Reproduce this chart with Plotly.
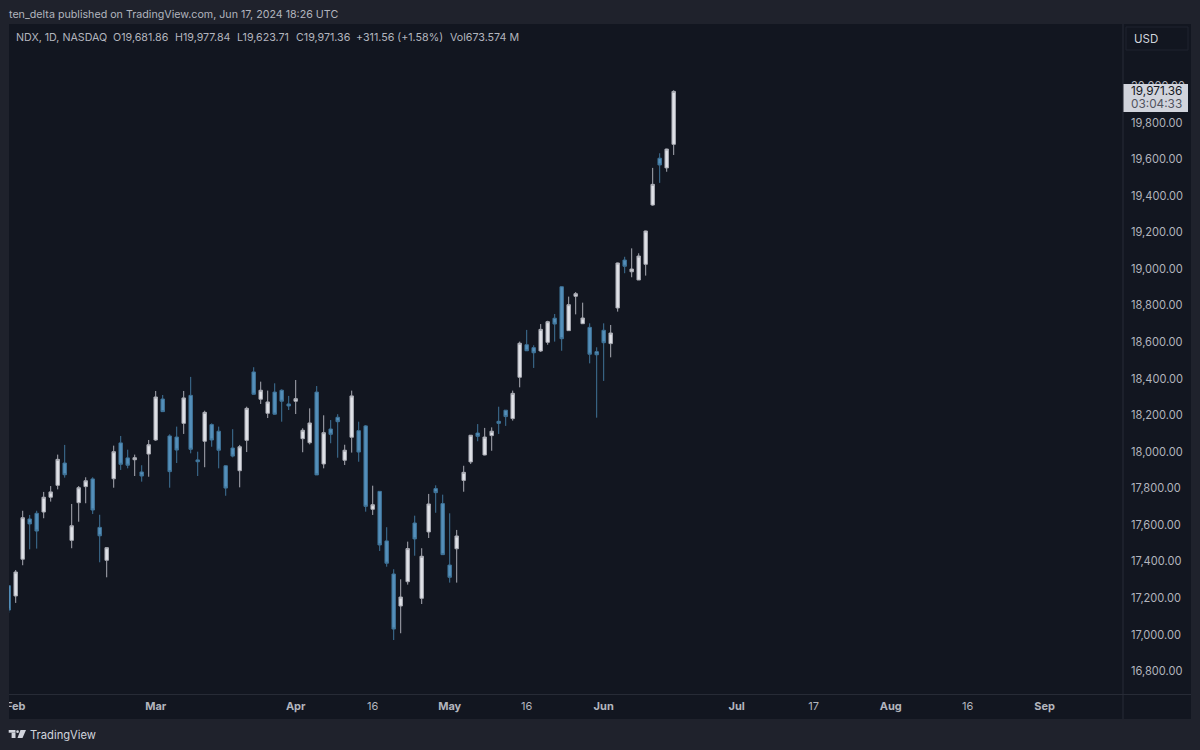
"""NDX daily candles, TradingView dark snapshot (Jun 17, 2024)."""

import plotly.graph_objects as go

W, H = 1200, 750

# 日线数据
opens = [
    17268, 17212, 17413, 17633, 17664, 17671, 17752, 17817, 17939, 17516, 17722, 17810,
    17852, 17587, 17407, 17853, 18049, 17967, 17957, 17890, 17988, 18065, 18289, 18087,
    18081, 18156, 18309, 17956, 18058, 18149, 18113, 17924, 18021, 17897, 18063, 18437,
    18288, 18211, 18327, 18337, 18262, 18277, 18072, 18050, 18327, 17934, 18125, 18189,
    17954, 18080, 18116, 18142, 17686, 17784, 17513, 17332, 17157, 17290, 17611, 17199,
    17562, 17799, 17717, 17381, 17470, 17844, 17945, 18103, 17983, 18089, 18167, 18228,
    18182, 18408, 18586, 18570, 18552, 18599, 18731, 18903, 18663, 18851, 18701, 18681,
    18548, 18665, 18592, 18787, 19049, 18985, 18940, 19026, 19350, 19606, 19553, 19681.86,
]
highs = [
    17272, 17354, 17678, 17655, 17678, 17781, 17813, 17985, 18038, 17715, 17813, 17861,
    17861, 17656, 17478, 18034, 18087, 18012, 17985, 17927, 18065, 18333, 18311, 18096,
    18138, 18333, 18410, 18001, 18225, 18156, 18138, 17927, 18124, 18038, 18247, 18463,
    18384, 18335, 18375, 18342, 18306, 18393, 18129, 18238, 18360, 18200, 18174, 18206,
    18039, 18335, 18165, 18147, 17815, 17786, 17588, 17358, 17303, 17509, 17651, 17473,
    17770, 17817, 17766, 17664, 17573, 17924, 18092, 18152, 18131, 18134, 18247, 18229,
    18335, 18603, 18667, 18583, 18699, 18717, 18754, 18905, 18849, 18874, 18816, 18703,
    18572, 18703, 18694, 19035, 19067, 19113, 19086, 19210, 19553, 19633, 19658, 19977.84,
]
lows = [
    17119, 17174, 17380, 17467, 17471, 17637, 17728, 17795, 17859, 17473, 17618, 17719,
    17660, 17396, 17314, 17804, 17901, 17910, 17868, 17837, 17864, 18060, 18218, 17804,
    17939, 18098, 17992, 17868, 17916, 18028, 17910, 17760, 17970, 17806, 17999, 18313,
    18262, 18185, 18203, 18165, 18229, 18207, 17998, 18041, 17874, 17910, 18047, 17968,
    17928, 17996, 17946, 17673, 17655, 17458, 17372, 16971, 17008, 17274, 17432, 17168,
    17529, 17667, 17436, 17285, 17285, 17782, 17934, 18058, 17981, 18006, 18098, 18142,
    18171, 18353, 18552, 18459, 18546, 18586, 18603, 18553, 18661, 18752, 18699, 18484,
    18187, 18388, 18517, 18767, 18977, 18955, 18940, 18964, 19346, 19471, 19532, 19623.71,
]
closes = [
    17135, 17343, 17640, 17606, 17567, 17752, 17781, 17959, 17875, 17596, 17804, 17842,
    17682, 17541, 17476, 18001, 17932, 17927, 17968, 17868, 18039, 18300, 18220, 17892,
    18010, 18295, 18014, 17946, 18216, 18065, 18009, 17802, 17977, 18028, 18238, 18315,
    18337, 18273, 18206, 18277, 18251, 18291, 18118, 18158, 17874, 18105, 18096, 18165,
    18009, 18306, 17999, 17702, 17711, 17491, 17391, 17031, 17206, 17471, 17524, 17429,
    17715, 17777, 17438, 17314, 17540, 17888, 18091, 18085, 18081, 18113, 18156, 18193,
    18320, 18594, 18553, 18542, 18670, 18712, 18699, 18619, 18805, 18865, 18732, 18534,
    18531, 18597, 18650, 19033, 19015, 19000, 19071, 19208, 19463, 19569, 19656, 19971.36,
]

price_ticks = [16800, 17000, 17200, 17400, 17600, 17800, 18000, 18200, 18400, 18600,
               18800, 19000, 19200, 19400, 19600, 19800, 20000]
date_tick_bars = [1, 21, 41, 52, 63, 74, 85, 104, 115, 126, 137, 148]
date_tick_labels = ["<b>Feb</b>", "<b>Mar</b>", "<b>Apr</b>", "16", "<b>May</b>", "16",
                    "<b>Jun</b>", "<b>Jul</b>", "17", "<b>Aug</b>", "16", "<b>Sep</b>"]

FRAME = "#1f222c"
PANE = "#121620"
SEP = "#272b36"
TEXT = "#b2b5be"
UP = "#e0e2e8"
UP_WICK = "#a9abb3"
DOWN = "#5590bb"
DOWN_WICK = "#3f7398"
FONT = "Inter, Liberation Sans, sans-serif"


def px(x):
    return x / W


def py(y):
    return 1 - y / H


def rect(x0, y0, x1, y1, color, layer="below", line=None):
    return dict(type="rect", xref="paper", yref="paper", x0=px(x0), x1=px(x1), y0=py(y0), y1=py(y1),
                fillcolor=color, layer=layer, line=dict(color=line or color, width=1 if line else 0))


def label(x, y, text, size=10.7, color=TEXT, anchor="left"):
    return dict(xref="paper", yref="paper", x=px(x), y=py(y), text=text, showarrow=False,
                xanchor=anchor, yanchor="middle", borderpad=0, font=dict(size=size, color=color, family=FONT))


fig = go.Figure(go.Candlestick(
    x=list(range(len(opens))),
    open=opens, high=highs, low=lows, close=closes,
    increasing=dict(line=dict(color=UP_WICK, width=1), fillcolor=UP),
    decreasing=dict(line=dict(color=DOWN_WICK, width=1), fillcolor=DOWN),
    hoverinfo="skip",
))

shapes = [
    rect(9, 24, 1191, 719, PANE),
    rect(1122.5, 24, 1123.5, 719, SEP),
    rect(9, 694, 1191, 695, SEP),
    # Feb 标签左侧被裁掉
    rect(0, 696, 9, 719, FRAME, layer="above"),
    rect(1126, 27, 1188, 50, PANE, layer="above", line="#1f232e"),
    rect(1123.5, 84, 1188, 112, "#d1d4dc", layer="above"),
]
# TradingView 徽标
shapes += [
    rect(8.7, 730, 15.5, 732.7, "#d1d4dc", layer="above"),
    rect(11.6, 732.7, 15.5, 738, "#d1d4dc", layer="above"),
    dict(type="circle", xref="paper", yref="paper", x0=px(16.2), x1=px(18.9), y0=py(733), y1=py(730.3),
         fillcolor="#d1d4dc", line=dict(width=0), layer="above"),
    dict(type="path", xref="paper", yref="paper", fillcolor="#d1d4dc", line=dict(width=0), layer="above",
         path=f"M {px(20.5)} {py(730)} L {px(26)} {py(730)} L {px(22.5)} {py(738)} L {px(17.5)} {py(738)} Z"),
]

legend_parts = [
    (15, "NDX, 1D, NASDAQ"), (112, "O19,681.86"), (174, "H19,977.84"), (236, "L19,623.71"),
    (295, "C19,971.36"), (355, "+311.56 (+1.58%)"), (449, "Vol673.574 M"),
]
annotations = [label(x, 37, t) for x, t in legend_parts]
annotations += [
    label(8, 14, "ten_delta published on TradingView.com, Jun 17, 2024 18:26 UTC"),
    label(29, 734.5, "TradingView", size=11.2, color="#d1d4dc"),
    label(1133, 38.5, "USD", size=11.5, color="#d1d4dc"),
    label(1129.5, 91, "19,971.36", size=11.8, color="#131722"),
    label(1129.5, 103.7, "03:04:33", size=11.8, color="#50535e"),
]

fig.update_layout(
    width=W, height=H, autosize=False,
    margin=dict(l=0, r=0, t=0, b=0, autoexpand=False),
    paper_bgcolor=FRAME, plot_bgcolor=PANE,
    showlegend=False, dragmode=False,
    font=dict(family=FONT, size=12, color=TEXT),
    shapes=shapes, annotations=annotations,
    xaxis=dict(
        domain=[px(9), px(1123)], range=[0.043, 159.19],
        rangeslider=dict(visible=False), showgrid=False, zeroline=False, showline=False,
        tickmode="array", tickvals=date_tick_bars, ticktext=date_tick_labels,
        ticks="", ticklabelstandoff=4, tickfont=dict(size=11, color=TEXT),
    ),
    yaxis=dict(
        domain=[py(694), py(24)], range=[16675.8, 20340],
        side="right", showgrid=False, zeroline=False, showline=False,
        tickmode="array", tickvals=price_ticks, tickformat=",.2f",
        ticks="", ticklabelstandoff=7, tickfont=dict(size=11.1, color=TEXT),
    ),
)

fig.write_html("out.html", config=dict(displayModeBar=False),
               post_script="document.body.style.margin='0';document.body.style.overflow='hidden';")
